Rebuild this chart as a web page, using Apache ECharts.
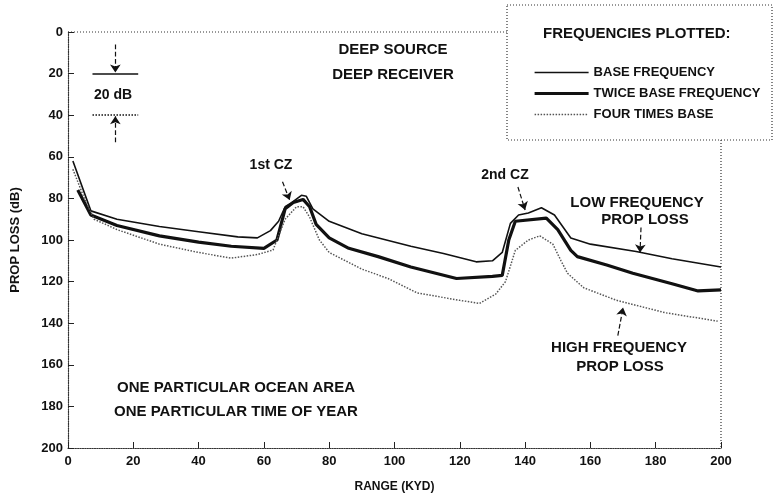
<!DOCTYPE html>
<html lang="en">
<head>
    <meta charset="UTF-8">
    <title>Prop loss vs range</title>
    <script src="https://cdn.jsdelivr.net/npm/echarts@6/dist/echarts.min.js"></script>
</head>
<body style="margin:0;background:#fff;">
<div id="pic1" style="width:773px;height:499px;"></div>

<script>
    // range (kyd), prop loss (dB) pairs
    var baseFreq = [
        [1.5, 62], [7, 86], [15, 90], [28, 93.5], [40, 96], [52, 98.5], [58, 99],
        [62, 95.5], [64.5, 91], [66.5, 84], [68.5, 82], [71.5, 78.5], [73, 79],
        [75, 85], [80, 91], [90, 97], [105, 103], [115, 106.5], [125, 110.5],
        [130, 110], [133, 106], [135.5, 92], [138, 88], [141, 87], [145, 84.5],
        [149, 88], [154, 99], [160, 102], [174, 105.5], [185, 109], [200, 113]
    ];
    var twiceFreq = [
        [3, 76], [7, 88], [15, 93], [28, 98], [40, 101], [50, 103], [60, 104],
        [64, 100], [66.5, 85], [69, 82], [72, 80.5], [74, 84], [76, 92.5],
        [80, 99], [86, 104], [95, 108], [105, 113], [119, 118.5], [130, 117.5],
        [133, 117], [135, 100], [137, 91], [146.5, 89.5], [150, 95], [154, 105],
        [156, 108], [165, 112], [173, 116], [185, 121], [193, 124.5], [200, 124]
    ];
    var fourFreq = [
        [1.5, 66], [5, 80], [8, 90], [15, 95], [28, 102], [40, 106], [50, 108.7],
        [58, 107], [62.8, 104.8], [66.5, 90], [70, 84], [72, 84], [74, 89],
        [77, 100], [80, 106], [90, 114], [98, 118.5], [107, 125.5], [120, 129],
        [126, 130.5], [131, 126], [134, 120], [137, 105], [141, 100], [144.5, 98],
        [148.5, 102], [151, 110], [153, 116], [158, 123], [168, 129], [183, 135],
        [199, 139]
    ];
    var seriesNames = ['BASE FREQUENCY', 'TWICE BASE FREQUENCY', 'FOUR TIMES BASE'];
    var ticks = [0, 20, 40, 60, 80, 100, 120, 140, 160, 180, 200];

    var font = '"Liberation Sans", Arial, sans-serif';
    var ink = '#111';
    var lineStyles = [
        {color: ink, width: 1.6},
        {color: ink, width: 3.2},
        {color: '#555', width: 1.5, type: 'dotted'}
    ];

    var myCharts1 = echarts.init(document.getElementById('pic1'));

    // arrows for the annotations, in data units
    var arrows = [
        [[65.7, 72], [67.9, 80.8]],
        [[137.8, 74.5], [140, 85.6]],
        [[175.5, 94], [175.2, 106]],
        [[168.4, 146], [170, 132.5]],
        [[14.5, 6], [14.5, 19.5]],
        [[14.5, 53], [14.5, 40.5]]
    ];

    var option1 = {
        backgroundColor: 'white',
        animation: false,
        grid: {left: 68, right: 52, top: 32, bottom: 51},
        legend: {
            data: seriesNames.map(function (n, i) {
                return {name: n, lineStyle: lineStyles[i]};
            }),
            orient: 'vertical',
            left: 528,
            top: 61,
            itemWidth: 54,
            itemHeight: 10,
            itemGap: 8,
            itemStyle: {opacity: 0},
            textStyle: {fontFamily: font, fontWeight: 'bold', fontSize: 13, color: ink}
        },
        xAxis: {
            type: 'value',
            position: 'bottom',
            min: 0, max: 200, interval: 20,
            name: 'RANGE (KYD)',
            nameLocation: 'middle',
            nameGap: 33,
            nameTextStyle: {fontFamily: font, fontWeight: 'bold', fontSize: 12, color: ink},
            axisLine: {onZero: false, lineStyle: {color: '#333', type: 'dotted', width: 1.2}},
            axisTick: {inside: true, length: 6, lineStyle: {color: '#222'}},
            axisLabel: {
                margin: 7, fontFamily: font, fontWeight: 'bold', fontSize: 13, color: ink,
                formatter: function (v) { return ticks.indexOf(v) >= 0 ? String(v) : ''; }
            },
            splitLine: {show: false}
        },
        yAxis: {
            type: 'value',
            inverse: true,
            min: 0, max: 200, interval: 20,
            name: 'PROP LOSS (dB)',
            nameLocation: 'middle',
            nameGap: 46,
            nameTextStyle: {fontFamily: font, fontWeight: 'bold', fontSize: 13, color: ink},
            axisLine: {onZero: false, lineStyle: {color: '#333', type: 'dotted', width: 1.2}},
            axisTick: {inside: true, length: 6, lineStyle: {color: '#222'}},
            axisLabel: {margin: 5, fontFamily: font, fontWeight: 'bold', fontSize: 13, color: ink},
            splitLine: {show: false}
        },
        series: [
            {
                name: seriesNames[0], type: 'line', data: baseFreq, symbol: 'none',
                itemStyle: {color: ink},
                lineStyle: lineStyles[0]
            },
            {
                name: seriesNames[1], type: 'line', data: twiceFreq, symbol: 'none',
                itemStyle: {color: ink},
                lineStyle: lineStyles[1]
            },
            {
                name: seriesNames[2], type: 'line', data: fourFreq, symbol: 'none',
                itemStyle: {color: '#555'},
                lineStyle: lineStyles[2]
            },
            {
                // annotation arrows and the 20 dB scale bar
                type: 'line', data: [], silent: true,
                markLine: {
                    silent: true,
                    symbol: ['none', 'arrow'],
                    symbolSize: 8,
                    label: {show: false},
                    lineStyle: {color: ink, width: 1.2, type: 'dashed'},
                    data: arrows.map(function (a) {
                        return [{coord: a[0]}, {coord: a[1]}];
                    }).concat([
                        [{coord: [7.5, 20], symbol: 'none'}, {coord: [21.5, 20], symbol: 'none', lineStyle: {type: 'solid', width: 1.5}}],
                        [{coord: [7.5, 40], symbol: 'none'}, {coord: [21.5, 40], symbol: 'none', lineStyle: {type: 'dotted', width: 1.5}}]
                    ])
                }
            }
        ],
        graphic: [
            // frame pieces and the legend box
            {type: 'line', shape: {x1: 68, y1: 32, x2: 507, y2: 32}, style: {stroke: '#333', lineDash: [1, 2], lineWidth: 1.2}},
            {type: 'line', shape: {x1: 721, y1: 140, x2: 721, y2: 448}, style: {stroke: '#333', lineDash: [1, 2], lineWidth: 1.2}},
            {type: 'rect', shape: {x: 507, y: 5, width: 265, height: 135}, style: {fill: 'none', stroke: '#333', lineDash: [1, 2], lineWidth: 1.2}},
            {type: 'text', left: 543, top: 26, style: {text: 'FREQUENCIES PLOTTED:', font: 'bold 15px ' + font, fill: ink}},
            // labels
            {type: 'text', x: 393, y: 50, style: {text: 'DEEP SOURCE', font: 'bold 15px ' + font, fill: ink, align: 'center', verticalAlign: 'middle'}},
            {type: 'text', x: 393, y: 75, style: {text: 'DEEP RECEIVER', font: 'bold 15px ' + font, fill: ink, align: 'center', verticalAlign: 'middle'}},
            {type: 'text', x: 113, y: 95, style: {text: '20 dB', font: 'bold 14px ' + font, fill: ink, align: 'center', verticalAlign: 'middle'}},
            {type: 'text', x: 271, y: 165, style: {text: '1st CZ', font: 'bold 14px ' + font, fill: ink, align: 'center', verticalAlign: 'middle'}},
            {type: 'text', x: 505, y: 175, style: {text: '2nd CZ', font: 'bold 14px ' + font, fill: ink, align: 'center', verticalAlign: 'middle'}},
            {type: 'text', x: 637, y: 203, style: {text: 'LOW FREQUENCY', font: 'bold 15px ' + font, fill: ink, align: 'center', verticalAlign: 'middle'}},
            {type: 'text', x: 645, y: 220, style: {text: 'PROP LOSS', font: 'bold 15px ' + font, fill: ink, align: 'center', verticalAlign: 'middle'}},
            {type: 'text', x: 619, y: 348, style: {text: 'HIGH FREQUENCY', font: 'bold 15px ' + font, fill: ink, align: 'center', verticalAlign: 'middle'}},
            {type: 'text', x: 620, y: 367, style: {text: 'PROP LOSS', font: 'bold 15px ' + font, fill: ink, align: 'center', verticalAlign: 'middle'}},
            {type: 'text', x: 236, y: 388, style: {text: 'ONE PARTICULAR OCEAN AREA', font: 'bold 15px ' + font, fill: ink, align: 'center', verticalAlign: 'middle'}},
            {type: 'text', x: 236, y: 412, style: {text: 'ONE PARTICULAR TIME OF YEAR', font: 'bold 15px ' + font, fill: ink, align: 'center', verticalAlign: 'middle'}}
        ]
    };

    myCharts1.setOption(option1);
</script>
</body>
</html>
